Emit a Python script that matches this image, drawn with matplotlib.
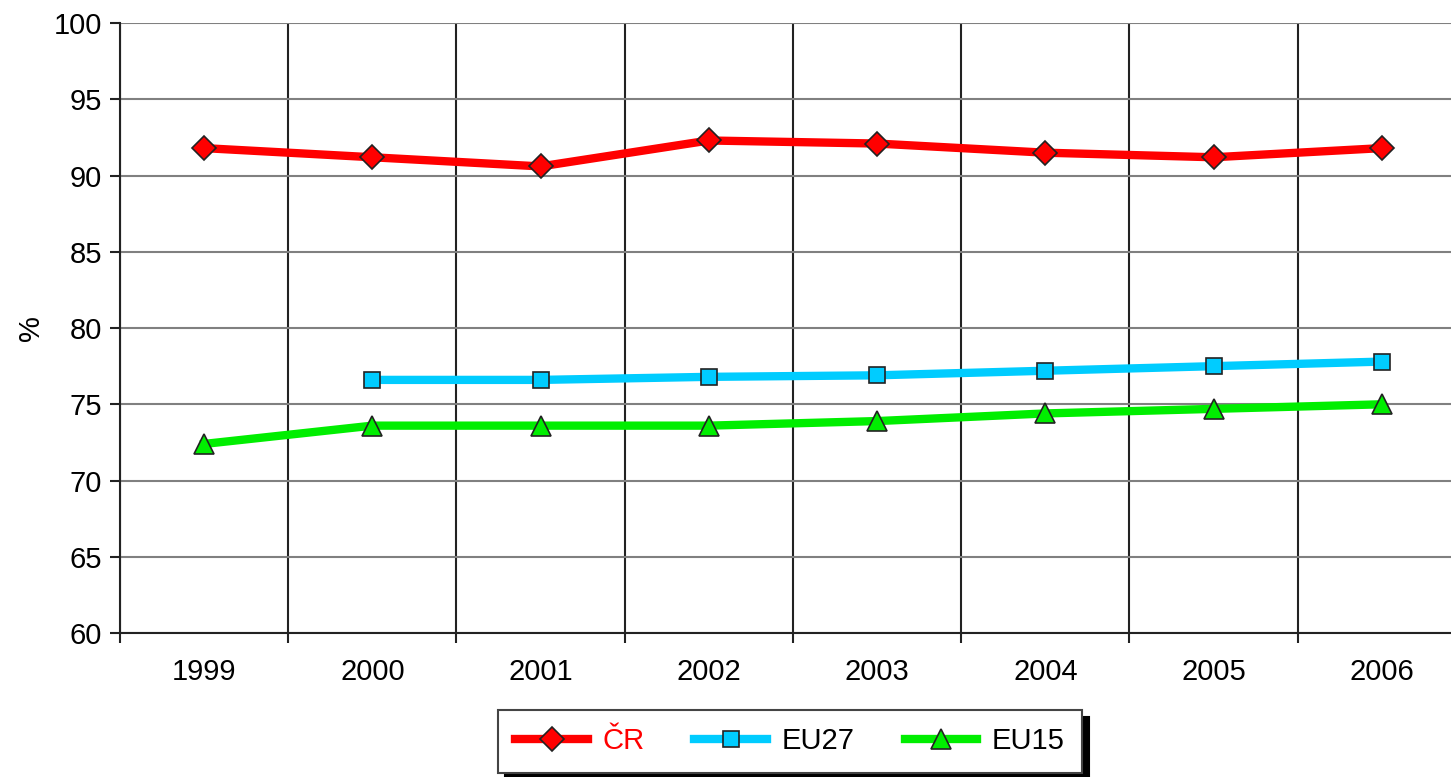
import numpy as np
import matplotlib.pyplot as plt
from matplotlib.ticker import FixedLocator, MultipleLocator

plt.rcParams['font.family'] = ['Liberation Sans', 'DejaVu Sans']

roky = ['1999', '2000', '2001', '2002', '2003', '2004', '2005', '2006']
cr = [91.8, 91.2, 90.6, 92.3, 92.1, 91.5, 91.2, 91.8]
eu27 = [np.nan, 76.6, 76.6, 76.8, 76.9, 77.2, 77.5, 77.8]
eu15 = [72.4, 73.6, 73.6, 73.6, 73.9, 74.4, 74.7, 75.0]

fig = plt.figure(figsize=(14.51, 7.77), dpi=100)
ax = fig.add_axes([0.0827, 0.1853, 0.9276, 0.785])

x = np.arange(len(roky))
ax.plot(x, cr, color='#ff0000', lw=6, marker='D', ms=12, mfc='#ff0000',
        mec='#222222', mew=1.2, label='ČR', zorder=3)
ax.plot(x, eu27, color='#00ccff', lw=6, marker='s', ms=11, mfc='#00ccff',
        mec='#222222', mew=1.2, label='EU27', zorder=3)
ax.plot(x, eu15, color='#00ee00', lw=6, marker='^', ms=14, mfc='#00ee00',
        mec='#222222', mew=1.2, label='EU15', zorder=3)

ax.set_xlim(-0.5, len(roky) - 0.5)
ax.set_ylim(60, 100)
ax.yaxis.set_major_locator(MultipleLocator(5))
ax.set_xticks(x)
ax.set_xticklabels(roky)
ax.xaxis.set_minor_locator(FixedLocator(np.arange(-0.5, len(roky), 1.0)))

ax.grid(axis='y', which='major', color='#808080', lw=1.5)
ax.grid(axis='x', which='minor', color='#222222', lw=1.5)
ax.set_axisbelow(True)

ax.tick_params(axis='x', which='major', length=0, labelsize=21, pad=18)
ax.tick_params(axis='x', which='minor', length=7, width=1.5, color='#222222')
ax.tick_params(axis='y', length=7, width=1.5, color='#222222', labelsize=21, pad=6)

for s in ['top', 'right']:
    ax.spines[s].set_visible(False)
for s in ['left', 'bottom']:
    ax.spines[s].set_color('#222222')
    ax.spines[s].set_linewidth(1.5)

ax.set_ylabel('%', fontsize=21)
ax.yaxis.set_label_coords(-0.056, 0.5)

leg = fig.legend(loc='center', bbox_to_anchor=(0.5445, 0.046), ncol=3,
                 fontsize=21, frameon=True, fancybox=False, handlelength=2.5,
                 handletextpad=0.5, columnspacing=1.7, borderpad=0.6,
                 shadow={'color': 'black', 'alpha': 1, 'ox': 5, 'oy': -5})
leg.get_frame().set_edgecolor('#444444')
leg.get_frame().set_linewidth(1.5)
leg.get_texts()[0].set_color('#ff0000')

fig.savefig('out.png', dpi=100)
